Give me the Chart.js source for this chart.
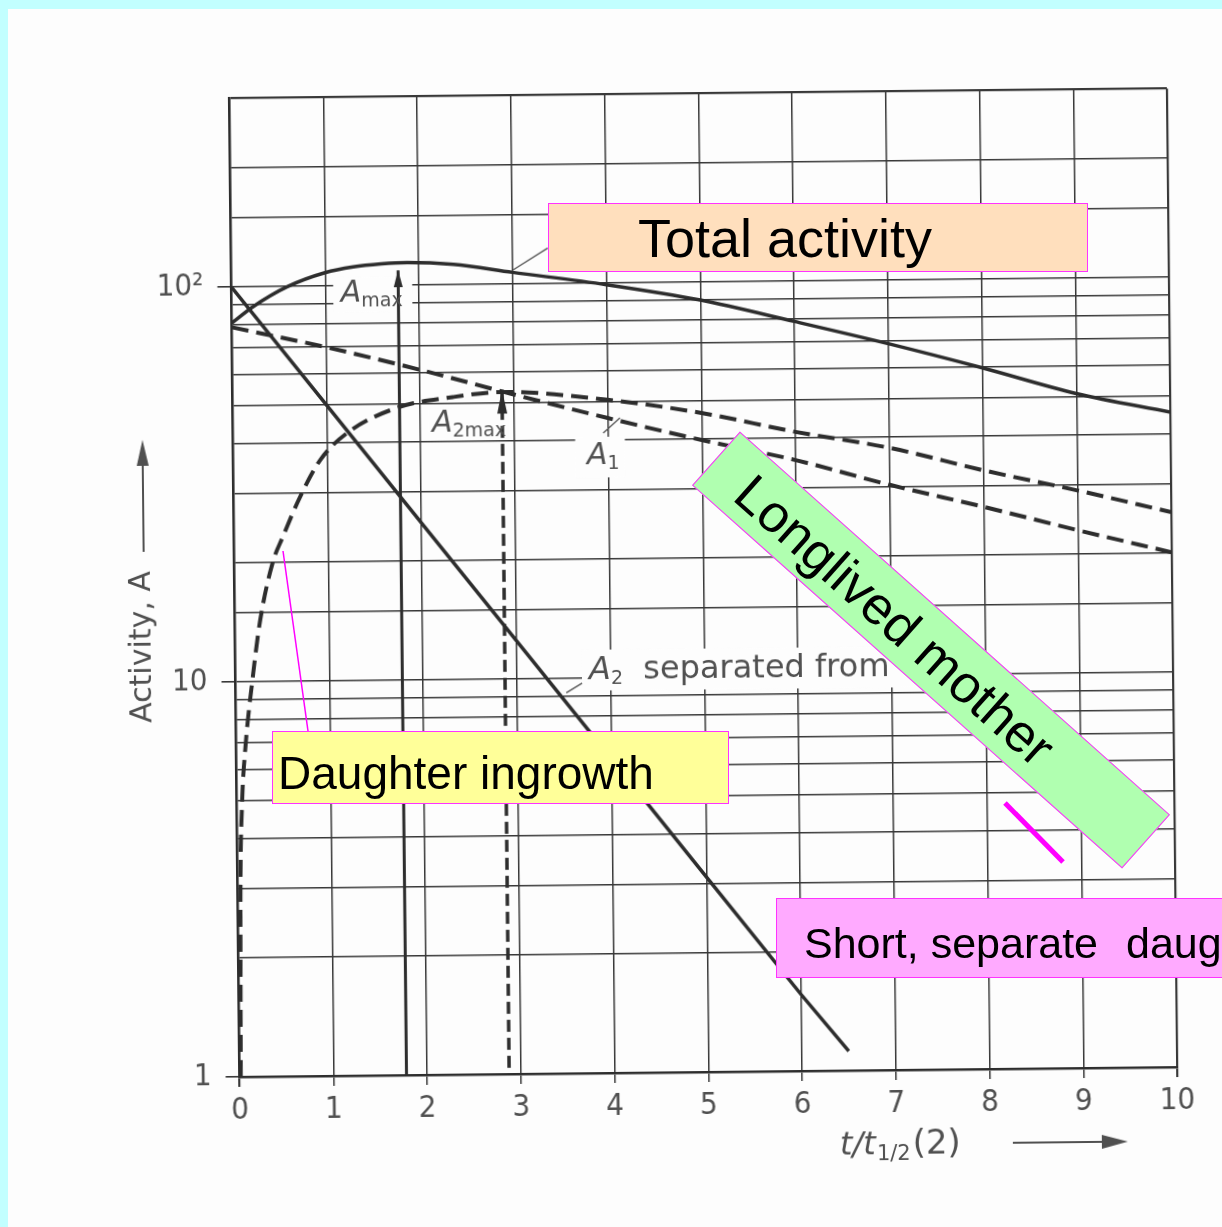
<!DOCTYPE html>
<html>
<head>
<meta charset="utf-8">
<script src="https://cdn.jsdelivr.net/npm/chart.js@4.4.1/dist/chart.umd.min.js"></script>
<style>
  html, body { margin: 0; padding: 0; }
  body { width: 1222px; height: 1227px; overflow: hidden; position: relative; background: #c2ffff; font-family: "Liberation Sans", Arial, sans-serif; }
  #paper { position: absolute; left: 8px; top: 9px; right: 0; bottom: 0; background: #fdfdfd; }
  /* the scanned page sits slightly tilted */
  #chart { position: absolute; left: 0; top: 0; transform: rotate(-0.6deg); transform-origin: 703px 583px; }
  #leaders { position: absolute; left: 0; top: 0; }
  .note { position: absolute; box-sizing: border-box; border: 1px solid #ff33ff; }
  .note span { position: absolute; white-space: nowrap; color: #000; line-height: 1; }
</style>
</head>
<body>
<div id="paper"></div>
<canvas id="chart" width="1222" height="1227"></canvas>
<svg id="leaders" width="1222" height="1227">
  <line x1="283" y1="551" x2="308" y2="731" stroke="#ff00ff" stroke-width="1.5"/>
  <line x1="1005" y1="803" x2="1063" y2="862" stroke="#ff00ff" stroke-width="5"/>
</svg>
<div class="note" style="left:548px;top:203px;width:540px;height:69px;background:#ffdfbd;">
  <span style="left:89px;top:7px;font-size:54px;">Total activity</span>
</div>
<div class="note" style="left:643px;top:614px;width:576px;height:72px;background:#b0ffb0;transform:rotate(41.7deg);">
  <span style="left:37px;top:10px;font-size:53px;">Longlived mother</span>
</div>
<div class="note" style="left:272px;top:731px;width:457px;height:73px;background:#ffff99;">
  <span style="left:5px;top:18px;font-size:46px;">Daughter ingrowth</span>
</div>
<div class="note" style="left:776px;top:898px;width:480px;height:80px;background:#ffaaff;">
  <span style="left:27px;top:22.5px;font-size:43px;">Short, separate</span>
  <span style="left:349px;top:22.5px;font-size:43px;">daughter</span>
</div>

<script>
// x = t / t1/2(2), y = activity (log scale)
const tTotal = [0, 0.23, 0.59, 1, 1.3, 1.6, 1.88, 2.37, 3, 4, 5, 6, 7, 8, 9, 10];
const aTotal = [81, 89, 99.6, 108, 111.5, 113.3, 114, 112.5, 107, 99, 90, 79, 69, 59.6, 51, 45.5];

// long-lived mother A1
const tMother = [0, 1, 2, 3, 4, 5, 6, 7, 8, 9, 10];
const aMother = [79, 70, 61, 52.5, 45.5, 39.8, 35.2, 30.3, 26.5, 23, 20.1];

// daughter growing in from the mother
const tIngrowth = [0.012, 0.03, 0.056, 0.093, 0.19, 0.27, 0.41, 0.52, 0.71, 0.93, 1.22, 1.75, 2.35, 2.88, 4, 5, 6, 7, 8, 9, 10];
const aIngrowth = [1, 3, 4.9, 6.6, 10.5, 14.3, 20, 23.2, 29.3, 36.3, 42.4, 48.9, 51.9, 53.3, 50.6, 46.6, 41.5, 37.6, 32.8, 29, 25.4];

// A2 separated from mother
const tSeparated = [0, 1, 2, 3, 4, 5, 6, 6.5];
const aSeparated = [100, 50, 25, 12.5, 6.25, 3.12, 1.56, 1.12];

// drop lines at the maxima
const tMaxTotal = 1.78, aMaxTotal = 109;
const tMaxDaughter = 2.875, aMaxDaughter = 54;

const yTickLabels = { 1: '1', 10: '10', 100: '10²' };

const ink = '#2d2d2d';
const gridInk = '#383838';
const labelInk = '#505050';
const paperColor = '#fdfdfd';
const tickFont = { family: '"DejaVu Sans Condensed", "DejaVu Sans", sans-serif', size: 31 };

function pts(xs, ys) {
  return xs.map((x, i) => ({ x: x, y: ys[i] }));
}

function isDecade(v) {
  const e = Math.log10(v);
  return Math.abs(e - Math.round(e)) < 1e-6;
}

// printed labels of the scanned figure, drawn over the grid
const scanText = {
  id: 'scanText',
  beforeDatasetsDraw(chart) {
    const { ctx, scales: { x, y } } = chart;
    // white patches where the printed labels break the grid
    const patches = [
      [1.086, 1.929, 105, 85.7],
      [2.083, 2.956, 48.5, 40.6],
      [3.65, 4.18, 40.8, 32.2],
      [3.696, 7.3, 11.8, 9.3],
    ];
    ctx.save();
    ctx.fillStyle = paperColor;
    patches.forEach(p => {
      const x0 = x.getPixelForValue(p[0]), x1 = x.getPixelForValue(p[1]);
      const y0 = y.getPixelForValue(p[2]), y1 = y.getPixelForValue(p[3]);
      ctx.fillRect(x0, y0, x1 - x0, y1 - y0);
    });
    ctx.restore();
  },
  afterDatasetsDraw(chart) {
    const { ctx, scales: { x, y } } = chart;
    const px = v => x.getPixelForValue(v);
    const py = v => y.getPixelForValue(v);
    ctx.save();

    // arrow heads on top of the drop lines
    ctx.fillStyle = ink;
    const head = (xv, top, base, w) => {
      ctx.beginPath();
      ctx.moveTo(px(xv), py(top));
      ctx.lineTo(px(xv) - w, py(base));
      ctx.lineTo(px(xv) + w, py(base));
      ctx.closePath();
      ctx.fill();
    };
    head(tMaxTotal, 109.3, 98.8, 4.5);
    head(tMaxDaughter, 54, 47, 5);

    // small leader lines
    ctx.strokeStyle = '#555';
    ctx.lineWidth = 1.4;
    const seg = (x0, y0, x1, y1) => {
      ctx.beginPath();
      ctx.moveTo(px(x0), py(y0));
      ctx.lineTo(px(x1), py(y1));
      ctx.stroke();
    };
    seg(3.006, 108.5, 3.38, 123);
    seg(4.13, 45.5, 3.95, 41.7);
    seg(3.527, 9.2, 3.697, 9.72);

    // symbol labels: italic A with a subscript
    ctx.fillStyle = labelInk;
    ctx.textBaseline = 'alphabetic';
    ctx.textAlign = 'left';
    const sym = (sub, xv, yv, size) => {
      const x0 = px(xv), y0 = py(yv);
      ctx.font = 'italic ' + size + 'px "DejaVu Sans"';
      ctx.fillText('A', x0, y0);
      const w = ctx.measureText('A').width;
      ctx.font = '19px "DejaVu Sans"';
      ctx.fillText(sub, x0 + w, y0 + 5);
    };
    sym('max', 1.165, 91, 30);
    sym('2max', 2.124, 42.4, 30);
    sym('1', 3.774, 34.9, 30);
    sym('2', 3.771, 9.95, 32);
    ctx.font = '32px "DejaVu Sans"';
    ctx.fillText('separated from', px(4.35), py(9.95));
    ctx.restore();
  },
  afterDraw(chart) {
    const { ctx } = chart;
    ctx.save();
    ctx.fillStyle = labelInk;
    ctx.strokeStyle = labelInk;

    // y title with its arrow
    ctx.save();
    ctx.translate(142, 641);
    ctx.rotate(-Math.PI / 2);
    ctx.font = '30px "DejaVu Sans"';
    ctx.textAlign = 'center';
    ctx.textBaseline = 'middle';
    ctx.fillText('Activity, A', 0, 0);
    ctx.restore();
    ctx.lineWidth = 2;
    ctx.beginPath();
    ctx.moveTo(144, 546);
    ctx.lineTo(144, 455);
    ctx.stroke();
    ctx.beginPath();
    ctx.moveTo(144, 434);
    ctx.lineTo(138, 460);
    ctx.lineTo(150, 460);
    ctx.closePath();
    ctx.fill();

    // x title t/t1/2(2) with its arrow
    let cx = 834;
    const base = 1156;
    ctx.textAlign = 'left';
    ctx.textBaseline = 'alphabetic';
    ctx.font = 'italic 32px "DejaVu Sans"';
    ctx.fillText('t/t', cx, base);
    cx += ctx.measureText('t/t').width + 1;
    ctx.font = '21px "DejaVu Sans"';
    ctx.fillText('1/2', cx, base + 6);
    cx += ctx.measureText('1/2').width + 2;
    ctx.font = '34px "DejaVu Sans"';
    ctx.fillText('(2)', cx, base);
    ctx.beginPath();
    ctx.moveTo(1007, 1146);
    ctx.lineTo(1100, 1146);
    ctx.stroke();
    ctx.beginPath();
    ctx.moveTo(1122, 1146);
    ctx.lineTo(1096, 1139);
    ctx.lineTo(1096, 1153);
    ctx.closePath();
    ctx.fill();
    ctx.restore();
  }
};

const data = {
  datasets: [
    {
      label: 'Total activity',
      data: pts(tTotal, aTotal),
      borderColor: ink,
      borderWidth: 3.5,
      cubicInterpolationMode: 'monotone',
    },
    {
      label: 'A1',
      data: pts(tMother, aMother),
      borderColor: ink,
      borderWidth: 4,
      borderDash: [17, 8],
      cubicInterpolationMode: 'monotone',
    },
    {
      label: 'Daughter ingrowth',
      data: pts(tIngrowth, aIngrowth),
      borderColor: ink,
      borderWidth: 4,
      borderDash: [17, 8],
      cubicInterpolationMode: 'monotone',
    },
    {
      label: 'A2 separated from mother',
      data: pts(tSeparated, aSeparated),
      borderColor: ink,
      borderWidth: 3.5,
    },
    {
      label: 'Amax',
      data: [{ x: tMaxTotal, y: aMaxTotal }, { x: tMaxTotal, y: 1 }],
      borderColor: ink,
      borderWidth: 3,
    },
    {
      label: 'A2max',
      data: [{ x: tMaxDaughter, y: aMaxDaughter }, { x: tMaxDaughter, y: 1 }],
      borderColor: ink,
      borderWidth: 3.5,
      borderDash: [12, 6],
    },
  ],
};

const config = {
  type: 'line',
  data: data,
  options: {
    responsive: false,
    animation: false,
    events: [],
    layout: { padding: { left: 0, right: 50, top: 93.5, bottom: 0 } },
    elements: { point: { radius: 0 }, line: { fill: false } },
    plugins: { legend: { display: false }, tooltip: { enabled: false } },
    scales: {
      x: {
        type: 'linear',
        min: 0,
        max: 10,
        afterFit: s => { s.height = 155; },
        border: { display: true, color: ink, width: 2.5 },
        grid: {
          color: gridInk,
          lineWidth: c => (c.tick && (c.tick.value === 0 || c.tick.value === 10) ? 2.2 : 1.5),
          tickLength: 10,
          tickColor: gridInk,
        },
        ticks: { stepSize: 1, autoSkip: false, maxRotation: 0, padding: 5, color: labelInk, font: tickFont },
      },
      y: {
        type: 'logarithmic',
        min: 1,
        max: 300,
        afterFit: s => { s.width = 234.5; },
        border: { display: true, color: ink, width: 2.5 },
        grid: {
          color: gridInk,
          lineWidth: c => (c.tick && c.tick.value >= 299 ? 2.2 : 1.6),
          tickLength: 14,
          tickColor: c => (c.tick && isDecade(c.tick.value) ? gridInk : 'rgba(0,0,0,0)'),
        },
        ticks: {
          autoSkip: false,
          padding: 14,
          color: labelInk,
          font: tickFont,
          callback: v => yTickLabels[Math.round(v * 1000) / 1000] || '',
        },
      },
    },
  },
  plugins: [scanText],
};

const decayChart = new Chart(document.getElementById('chart'), config);
</script>
</body>
</html>
